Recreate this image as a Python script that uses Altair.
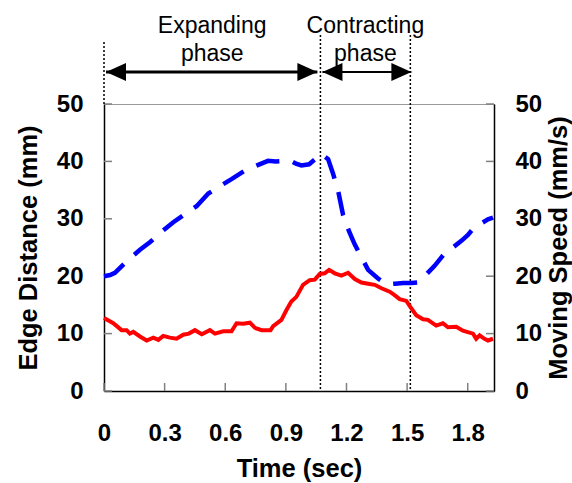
import altair as alt
import pandas as pd

# ---- data ----
blue_t = [0, 0.03, 0.054, 0.112, 0.178, 0.23, 0.277, 0.343, 0.40, 0.458, 0.516, 0.57, 0.631,
          0.697, 0.75, 0.812, 0.85, 0.895, 0.919, 0.95, 0.977, 1.015, 1.076, 1.109, 1.134,
          1.158, 1.183, 1.213, 1.24, 1.265, 1.307, 1.356, 1.397, 1.44, 1.48, 1.52, 1.554,
          1.578, 1.60, 1.636, 1.686, 1.730, 1.77, 1.801, 1.834, 1.867, 1.90, 1.925]
blue_v = [20.0, 20.2, 20.6, 22.6, 24.6, 26.0, 27.5, 29.4, 30.8, 32.2, 34.4, 35.6, 36.9,
          38.4, 39.2, 40.1, 40.0, 40.1, 40.2, 39.6, 39.3, 39.5, 41.3, 40.4, 37.8,
          35.0, 30.7, 27.8, 25.6, 23.9, 21.1, 19.6, 18.6, 18.7, 18.8, 18.8, 18.9,
          19.6, 20.5, 21.8, 24.0, 25.1, 26.2, 27.2, 28.6, 29.2, 29.9, 30.2]

red_t = [0, 0.046, 0.087, 0.112, 0.128, 0.145, 0.178, 0.211, 0.244, 0.269, 0.293, 0.326,
         0.359, 0.392, 0.42, 0.450, 0.484, 0.524, 0.549, 0.590, 0.631, 0.656, 0.689, 0.722,
         0.747, 0.780, 0.824, 0.837, 0.878, 0.903, 0.927, 0.952, 0.985, 1.018, 1.043, 1.068,
         1.092, 1.114, 1.142, 1.175, 1.208, 1.241, 1.274, 1.307, 1.340, 1.373, 1.414, 1.438,
         1.463, 1.496, 1.521, 1.545, 1.579, 1.603, 1.644, 1.677, 1.702, 1.743, 1.776, 1.826,
         1.842, 1.859, 1.883, 1.900, 1.925]
red_v = [12.7, 11.8, 10.6, 10.6, 10.0, 10.3, 9.5, 8.8, 9.3, 8.9, 9.6, 9.3,
         9.1, 9.8, 10.0, 10.6, 9.9, 10.6, 10.0, 10.4, 10.4, 11.8, 11.7, 11.9,
         11.0, 10.6, 10.6, 11.3, 12.4, 14.1, 15.6, 16.4, 18.5, 19.3, 19.4, 20.4,
         20.5, 21.1, 20.5, 20.1, 20.6, 19.5, 18.9, 18.7, 18.5, 17.9, 17.3, 16.7,
         16.0, 15.7, 14.4, 13.2, 12.5, 12.4, 11.4, 11.8, 11.1, 11.2, 10.5, 10.0,
         9.1, 9.7, 9.1, 8.8, 9.1]

phase_bounds = [0, 1.071, 1.516]
phase_line1 = ["Expanding", "Contracting"]
phase_line2 = ["phase", "phase"]
arrow_start = [0.01, 1.081]
arrow_end = [1.056, 1.521]

x_ticks = [0, 0.3, 0.6, 0.9, 1.2, 1.5, 1.8]
y_ticks = [0, 10, 20, 30, 40, 50]

# ---- layout / style ----
W, H = 390, 287
FONT = "Liberation Sans"
xs = alt.Scale(domain=[0, 1.93], nice=False, zero=False)
ys = alt.Scale(domain=[0, 50], nice=False)
ARROW_Y = -32
TICK_C = "#808080"

blue_df = pd.DataFrame({"t": blue_t, "v": blue_v})
red_df = pd.DataFrame({"t": red_t, "v": red_v})
xt_df = pd.DataFrame({"t": x_ticks})
yt_df = pd.DataFrame({"v": y_ticks})
bnd_df = pd.DataFrame({"t": phase_bounds, "first": [i == 0 for i in range(len(phase_bounds))]})
lab_df = pd.DataFrame({
    "mid": [(phase_bounds[i] + phase_bounds[i + 1]) / 2 for i in range(len(phase_line1))],
    "l1": phase_line1, "l2": phase_line2,
    "s": arrow_start, "e": arrow_end, "k": list(range(len(arrow_start)))})

X_none = lambda f: alt.X(f, scale=xs, axis=None)
Y_none = lambda f: alt.Y(f, scale=ys, axis=None)

blue = alt.Chart(blue_df).mark_line(color="#0000ff", strokeWidth=4.5, strokeDash=[24, 14],
                                    strokeCap="butt").encode(
    x=alt.X("t:Q", scale=xs, axis=alt.Axis(
        orient="bottom", values=x_ticks, format=".1~f", title="Time (sec)",
        ticks=False, tickSize=0, labelPadding=30, titlePadding=11,
        domainColor="black", domainWidth=1.5, labelFlush=False, labelOverlap=False)),
    y=alt.Y("v:Q", scale=ys, axis=alt.Axis(
        orient="left", values=y_ticks, title="Edge Distance (mm)",
        ticks=False, tickSize=0, labelPadding=21, titlePadding=15,
        domainColor="black", domainWidth=1.5, labelFlush=False, labelOverlap=False)),
)

red = alt.Chart(red_df).mark_line(color="#ff0000", strokeWidth=4).encode(
    x=X_none("t:Q"),
    y=alt.Y("v:Q", scale=ys, axis=alt.Axis(
        orient="right", values=y_ticks, title="Moving Speed (mm/s)",
        ticks=False, tickSize=0, labelPadding=21, titlePadding=5,
        titleAngle=-90, titleBaseline="top",
        domainColor="black", domainWidth=1.5, labelFlush=False, labelOverlap=False)),
)

ytick_l = alt.Chart(yt_df).mark_rule(color=TICK_C, strokeWidth=1.5).encode(
    y=Y_none("v:Q"), x=alt.value(0), x2=alt.value(8))
ytick_r = alt.Chart(yt_df).mark_rule(color=TICK_C, strokeWidth=1.5).encode(
    y=Y_none("v:Q"), x=alt.value(W - 8), x2=alt.value(W))
xtick = alt.Chart(xt_df).mark_rule(color=TICK_C, strokeWidth=1.5).encode(
    x=X_none("t:Q"), y=alt.value(H - 8), y2=alt.value(H))

dot_first = alt.Chart(bnd_df).transform_filter("datum.first").mark_rule(
    color="black", strokeWidth=1.5, strokeDash=[2, 2]).encode(
    x=X_none("t:Q"), y=alt.value(-62), y2=alt.value(0))
dot_rest = alt.Chart(bnd_df).transform_filter("!datum.first").mark_rule(
    color="black", strokeWidth=1.5, strokeDash=[2, 2]).encode(
    x=X_none("t:Q"), y=alt.value(-69), y2=alt.value(H))

arrow_exp = alt.Chart(lab_df).transform_filter("datum.k == 0").mark_rule(
    color="black", strokeWidth=3).encode(
    x=X_none("s:Q"), x2="e:Q", y=alt.value(ARROW_Y))
arrow_con = alt.Chart(lab_df).transform_filter("datum.k == 1").mark_rule(
    color="black", strokeWidth=2).encode(
    x=X_none("s:Q"), x2="e:Q", y=alt.value(ARROW_Y))
head_l = alt.Chart(lab_df).mark_point(
    shape="M0,0L2,-0.9L2,0.9Z", size=400, filled=True, color="black", opacity=1,
    strokeWidth=0).encode(x=X_none("s:Q"), y=alt.value(ARROW_Y))
head_r = alt.Chart(lab_df).mark_point(
    shape="M0,0L-2,-0.9L-2,0.9Z", size=400, filled=True, color="black", opacity=1,
    strokeWidth=0).encode(x=X_none("e:Q"), y=alt.value(ARROW_Y))

txt1 = alt.Chart(lab_df).mark_text(font=FONT, fontSize=23, color="black",
                                   align="center", baseline="alphabetic").encode(
    x=X_none("mid:Q"), y=alt.value(-71), text="l1:N")
txt2 = alt.Chart(lab_df).mark_text(font=FONT, fontSize=23, color="black",
                                   align="center", baseline="alphabetic").encode(
    x=X_none("mid:Q"), y=alt.value(-43), text="l2:N")

chart = alt.layer(
    ytick_l, ytick_r, xtick, dot_first, dot_rest, blue, red,
    arrow_exp, arrow_con, head_l, head_r, txt1, txt2
).resolve_scale(y="independent").resolve_axis(y="independent", x="independent").properties(
    width=W, height=H,
    padding={"left": 104, "top": 104, "right": 78, "bottom": 92},
    autosize=alt.AutoSizeParams(type="none"),
).configure_view(stroke="#999999", strokeWidth=1).configure_axis(
    labelFont=FONT, titleFont=FONT, labelFontSize=24, titleFontSize=25.5,
    labelFontWeight="bold", titleFontWeight="bold", labelColor="black",
    titleColor="black", grid=False
)

chart.save("out.html", embed_options={"renderer": "svg", "actions": False})
